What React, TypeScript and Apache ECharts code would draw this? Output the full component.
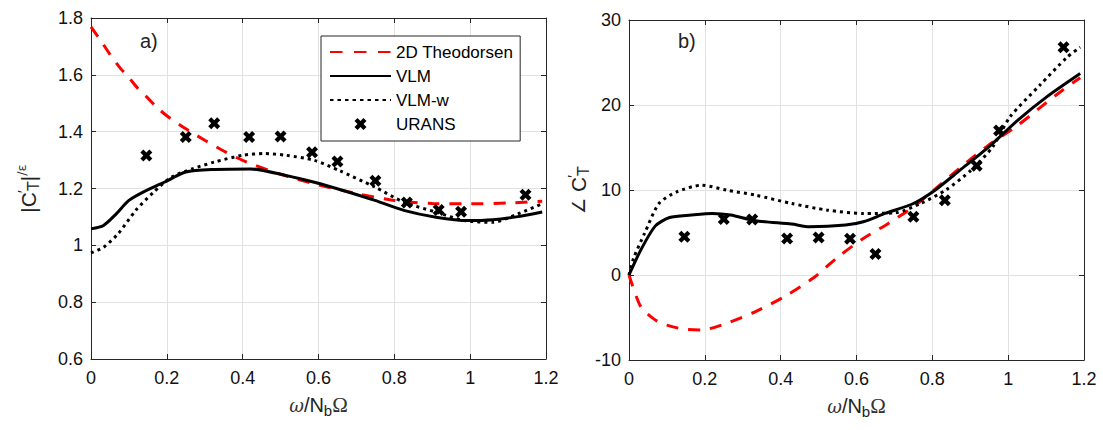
import React, { useEffect, useRef } from "react";
import * as echarts from "echarts";

// ---------- data ----------
const xTickMax = 1.2;

// panel a) amplitude
const theoAmpX = [0, 0.025, 0.05, 0.075, 0.1, 0.125, 0.15, 0.175, 0.2, 0.25, 0.3, 0.35, 0.4, 0.5, 0.6, 0.7, 0.8, 0.9, 1.0, 1.1, 1.19];
const theoAmpY = [1.769, 1.722, 1.672, 1.627, 1.59, 1.55, 1.518, 1.484, 1.456, 1.41, 1.37, 1.332, 1.299, 1.25, 1.213, 1.182, 1.158, 1.147, 1.146, 1.149, 1.155];

const vlmAmpX = [0, 0.033, 0.066, 0.1, 0.146, 0.193, 0.25, 0.325, 0.42, 0.514, 0.589, 0.665, 0.749, 0.825, 0.91, 0.994, 1.06, 1.126, 1.19];
const vlmAmpY = [1.058, 1.07, 1.11, 1.158, 1.193, 1.222, 1.258, 1.267, 1.269, 1.246, 1.222, 1.193, 1.158, 1.123, 1.099, 1.087, 1.09, 1.101, 1.117];

const vlmwAmpX = [0, 0.033, 0.071, 0.118, 0.165, 0.212, 0.269, 0.325, 0.4, 0.457, 0.514, 0.589, 0.655, 0.749, 0.825, 0.91, 0.985, 1.06, 1.126, 1.19];
const vlmwAmpY = [0.973, 0.993, 1.04, 1.123, 1.187, 1.24, 1.27, 1.293, 1.317, 1.323, 1.317, 1.299, 1.263, 1.205, 1.152, 1.117, 1.087, 1.081, 1.111, 1.146];

const uransX = [0.146, 0.25, 0.325, 0.417, 0.5, 0.583, 0.65, 0.75, 0.833, 0.917, 0.976, 1.146];
const uransAmp = [1.316, 1.381, 1.43, 1.381, 1.383, 1.328, 1.295, 1.227, 1.151, 1.124, 1.118, 1.178];
const uransPhase = [4.5, 6.58, 6.54, 4.3, 4.42, 4.27, 2.47, 6.85, 8.8, 12.84, 17.0, 26.8];

// panel b) phase
const theoPhX = [0, 0.031, 0.069, 0.1, 0.145, 0.192, 0.258, 0.334, 0.41, 0.485, 0.552, 0.618, 0.684, 0.75, 0.807, 0.873, 0.949, 1.025, 1.09, 1.145, 1.19];
const theoPhY = [0, -3.72, -5.28, -5.9, -6.38, -6.46, -5.67, -4.3, -2.54, -0.39, 2.15, 4.3, 6.07, 8.02, 10.1, 12.6, 15.3, 17.6, 19.9, 21.8, 23.2];

const vlmPhX = [0, 0.031, 0.069, 0.107, 0.164, 0.22, 0.268, 0.334, 0.429, 0.476, 0.571, 0.618, 0.675, 0.75, 0.807, 0.873, 0.949, 1.025, 1.1, 1.19];
const vlmPhY = [0, 2.93, 5.75, 6.77, 7.05, 7.24, 7.05, 6.38, 5.99, 5.68, 5.87, 6.26, 7.24, 8.41, 9.98, 12.33, 15.07, 18.2, 20.9, 23.7];

const vlmwPhX = [0, 0.012, 0.041, 0.079, 0.126, 0.192, 0.258, 0.334, 0.429, 0.523, 0.618, 0.703, 0.769, 0.835, 0.902, 0.959, 1.005, 1.084, 1.155, 1.19];
const vlmwPhY = [0, 1.96, 4.89, 8.41, 9.78, 10.57, 9.98, 9.39, 8.41, 7.63, 7.24, 7.32, 8.41, 9.98, 12.33, 15.07, 18.6, 22.35, 25.6, 26.8];

const legendNames = ["2D Theodorsen", "VLM", "VLM-w", "URANS"];

// ---------- styles ----------
const SANS = '"Liberation Sans", Arial, Helvetica, sans-serif';
const AX = "#262626";
const GRID = "#e2e2e2";
const XMARK = "path://M0,2.5 L2.5,0 L5,2.5 L7.5,0 L10,2.5 L7.5,5 L10,7.5 L7.5,10 L5,7.5 L2.5,10 L0,7.5 L2.5,5 Z";

const zip = (xs: number[], ys: number[]) => xs.map((x, i) => [x, ys[i]]);

const fmt = (v: number) => String(+v.toFixed(2));

function xAxis(gridIndex: number, position: "bottom" | "top") {
  const main = position === "bottom";
  return {
    type: "value",
    gridIndex,
    position,
    min: 0,
    max: xTickMax,
    interval: 0.2,
    axisLine: { show: true, onZero: false, lineStyle: { color: AX, width: 1 } },
    axisTick: { show: true, inside: true, length: 5, lineStyle: { color: AX } },
    axisLabel: main
      ? { show: true, margin: 10, color: "#111", fontSize: 18, fontFamily: SANS, formatter: fmt }
      : { show: false },
    splitLine: { show: main, lineStyle: { color: GRID, width: 1 } },
    name: main ? "{w|ω}{n|/N}{s|b}{o|Ω}" : "",
    nameLocation: "middle",
    nameGap: 33,
    nameTextStyle: {
      rich: {
        w: { fontFamily: '"DejaVu Serif", serif', fontStyle: "italic", fontSize: 18, lineHeight: 26, color: "#333" },
        n: { fontFamily: SANS, fontSize: 20, lineHeight: 26, color: "#222" },
        s: { fontFamily: SANS, fontSize: 15, lineHeight: 12, verticalAlign: "bottom", color: "#222" },
        o: { fontFamily: '"Liberation Serif", "DejaVu Serif", serif', fontSize: 21, lineHeight: 26, color: "#333" },
      },
    },
  };
}

function yAxis(gridIndex: number, position: "left" | "right", min: number, max: number, interval: number, name: string, gap: number) {
  const main = position === "left";
  return {
    type: "value",
    gridIndex,
    position,
    min,
    max,
    interval,
    axisLine: { show: true, onZero: false, lineStyle: { color: AX, width: 1 } },
    axisTick: { show: true, inside: true, length: 5, lineStyle: { color: AX } },
    axisLabel: main
      ? { show: true, margin: 8, color: "#111", fontSize: 18, fontFamily: SANS, formatter: fmt }
      : { show: false },
    splitLine: { show: main, lineStyle: { color: GRID, width: 1 } },
    name: main ? name : "",
    nameLocation: "middle",
    nameGap: gap,
    nameRotate: 90,
    nameTextStyle: {
      rich: {
        n: { fontFamily: SANS, fontSize: 21, lineHeight: 26, color: "#222" },
        a: { fontFamily: '"DejaVu Sans", sans-serif', fontSize: 18, lineHeight: 26, color: "#222" },
        p: { fontFamily: SANS, fontSize: 15, lineHeight: 12, width: 1, verticalAlign: "top", color: "#222" },
        s: { fontFamily: SANS, fontSize: 16, lineHeight: 13, verticalAlign: "bottom", color: "#222" },
        q: { fontFamily: '"DejaVu Sans", sans-serif', fontSize: 13, lineHeight: 13, verticalAlign: "top", color: "#333" },
      },
    },
  };
}

const redLine = { color: "#ff0000", width: 3, type: [12, 10] as any, cap: "butt" };
const blackLine = { color: "#000", width: 3, type: "solid" };
const dotLine = { color: "#000", width: 3, type: [3, 4] as any, cap: "butt" };

function lineSeries(name: string, data: number[][], idx: number, lineStyle: any, z: number) {
  return {
    type: "line",
    name,
    xAxisIndex: idx * 2,
    yAxisIndex: idx * 2,
    data,
    showSymbol: false,
    symbol: "none",
    smooth: 0.25,
    lineStyle,
    itemStyle: { color: lineStyle.color },
    z,
  };
}

function scatterSeries(ys: number[], idx: number) {
  return {
    type: "scatter",
    name: "URANS",
    xAxisIndex: idx * 2,
    yAxisIndex: idx * 2,
    data: zip(uransX, ys),
    symbol: XMARK,
    symbolSize: 12,
    itemStyle: { color: "#000", opacity: 1 },
    z: 5,
  };
}

export default function App() {
  const ref = useRef<HTMLDivElement>(null);
  useEffect(() => {
    if (!ref.current) return;
    const chart = echarts.init(ref.current, null, { renderer: "svg" });
    const hideSym = { opacity: 0, color: "transparent", borderWidth: 0 };
    chart.setOption({
      animation: false,
      backgroundColor: "#fff",
      grid: [
        { left: 91, top: 18, width: 455, height: 341 },
        { left: 629, top: 20, width: 455, height: 340 },
      ],
      xAxis: [xAxis(0, "bottom"), xAxis(0, "top"), xAxis(1, "bottom"), xAxis(1, "top")],
      yAxis: [
        yAxis(0, "left", 0.6, 1.8, 0.2, "{n||C}{p|′}{s|T}{n||}{q|/ε}", 50),
        yAxis(0, "right", 0.6, 1.8, 0.2, "", 50),
        yAxis(1, "left", -10, 30, 10, "{a|∠ }{n|C}{p|′}{s|T}", 35),
        yAxis(1, "right", -10, 30, 10, "", 35),
      ],
      legend: {
        orient: "vertical",
        left: 321,
        top: 36,
        padding: [7, 7, 8, 8],
        itemWidth: 61,
        itemHeight: 12,
        itemGap: 6,
        borderColor: AX,
        borderWidth: 1,
        backgroundColor: "#fff",
        selectedMode: false,
        textStyle: { fontSize: 17, lineHeight: 18, fontFamily: SANS, color: "#000" },
        data: [
          { name: legendNames[0], lineStyle: { type: [12.5, 11.5] }, itemStyle: hideSym },
          { name: legendNames[1], itemStyle: hideSym },
          { name: legendNames[2], lineStyle: { type: [3.5, 4] }, itemStyle: hideSym },
          { name: legendNames[3], itemStyle: { color: "#000", opacity: 1 } },
        ],
      },
      graphic: [
        { type: "text", left: 140, top: 31, style: { text: "a)", fontSize: 20, fontFamily: SANS, fill: "#222" } },
        { type: "text", left: 678, top: 31, style: { text: "b)", fontSize: 20, fontFamily: SANS, fill: "#222" } },
      ],
      series: [
        lineSeries(legendNames[0], zip(theoAmpX, theoAmpY), 0, redLine, 2),
        lineSeries(legendNames[1], zip(vlmAmpX, vlmAmpY), 0, blackLine, 3),
        lineSeries(legendNames[2], zip(vlmwAmpX, vlmwAmpY), 0, dotLine, 4),
        scatterSeries(uransAmp, 0),
        lineSeries(legendNames[0], zip(theoPhX, theoPhY), 1, redLine, 2),
        lineSeries(legendNames[1], zip(vlmPhX, vlmPhY), 1, blackLine, 3),
        lineSeries(legendNames[2], zip(vlmwPhX, vlmwPhY), 1, dotLine, 4),
        scatterSeries(uransPhase, 1),
      ],
    });
    return () => chart.dispose();
  }, []);
  return <div ref={ref} style={{ position: "absolute", left: 0, top: 0, width: 1103, height: 430 }} />;
}
